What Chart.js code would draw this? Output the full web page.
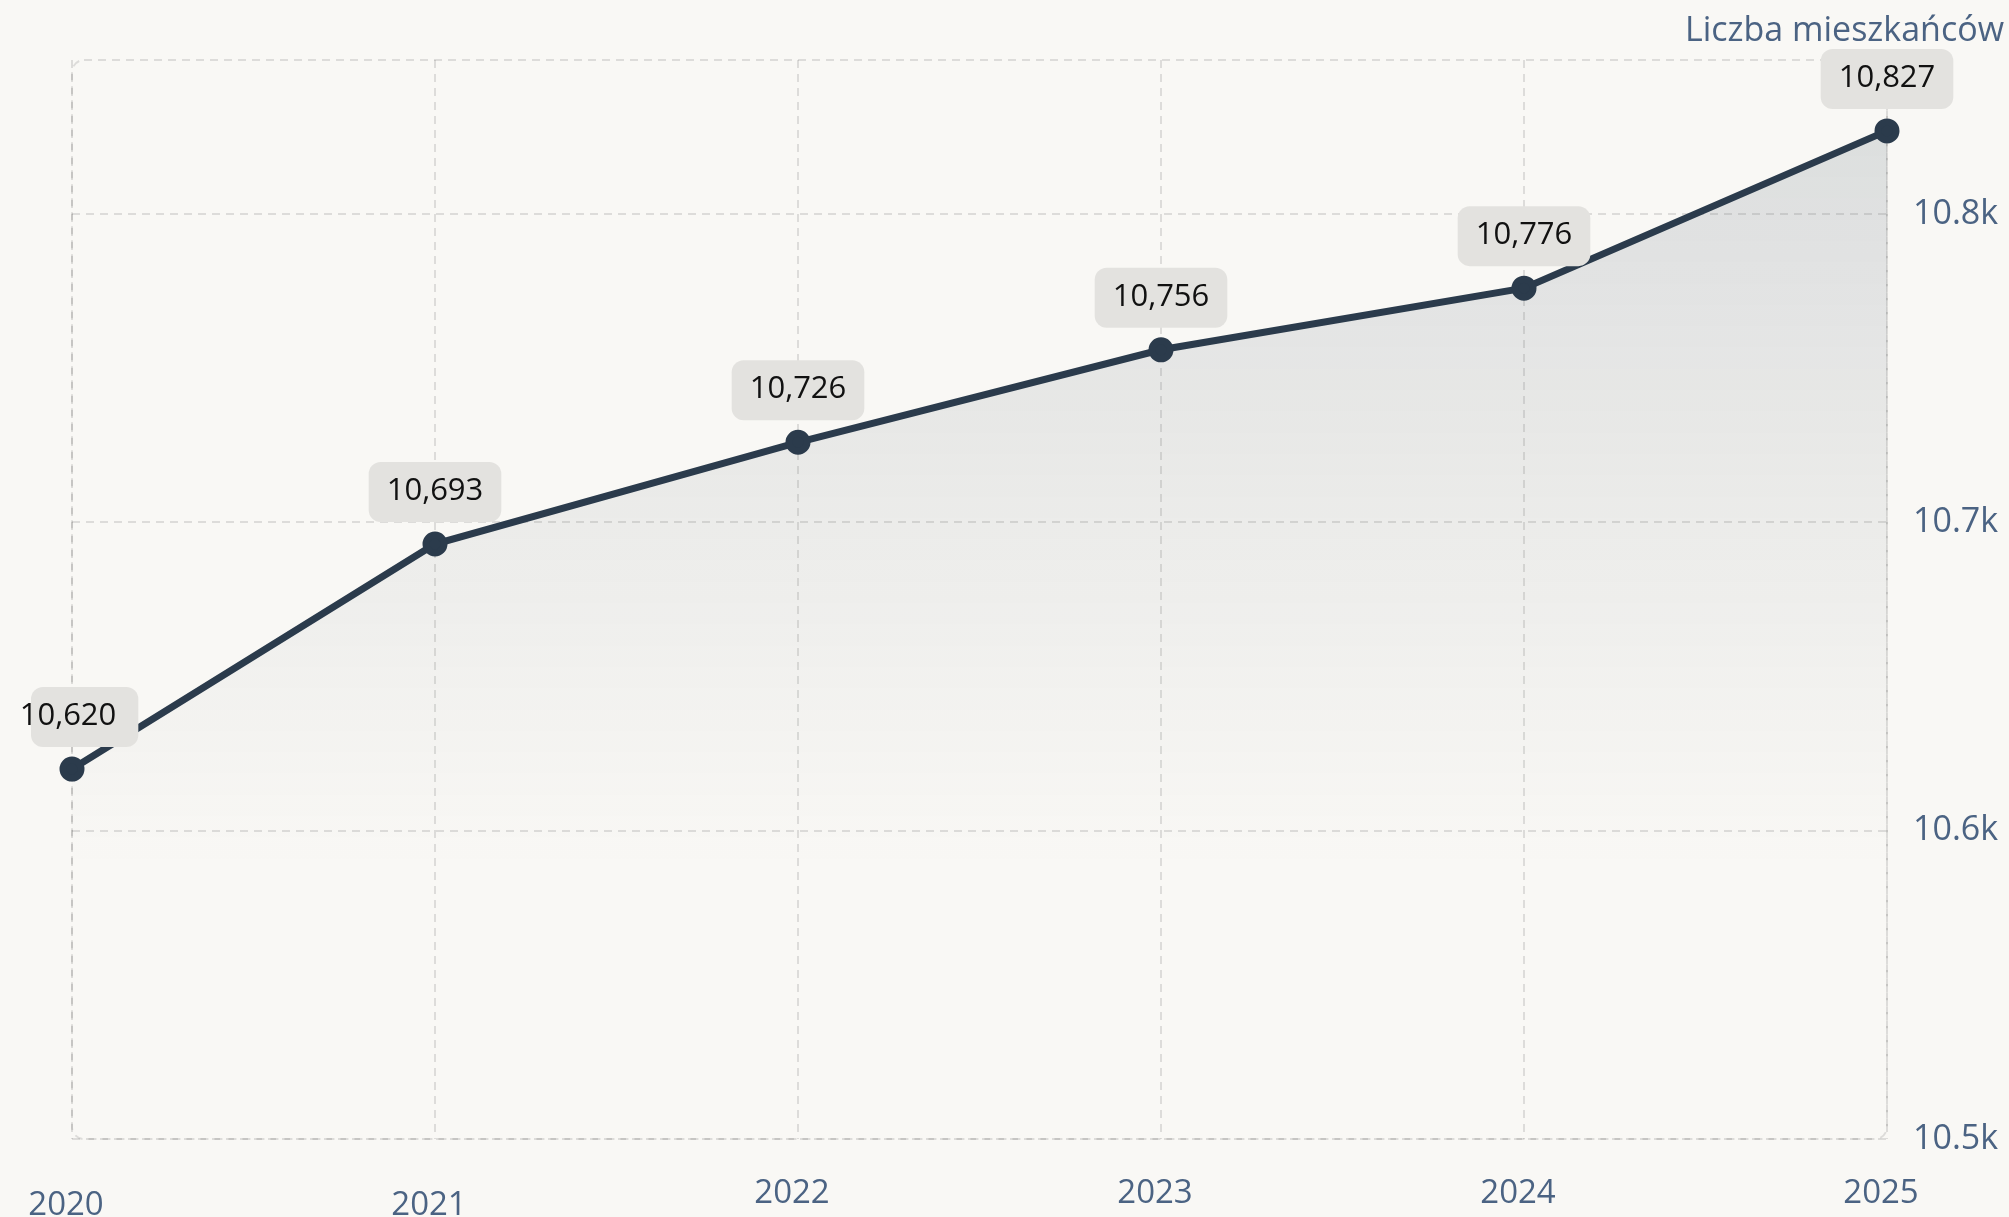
<!DOCTYPE html>
<html>
<head>
<meta charset="utf-8">
<script src="https://cdn.jsdelivr.net/npm/chart.js@4/dist/chart.umd.min.js"></script>
<style>
  html, body { margin: 0; padding: 0; background: #f9f8f5; }
  #wrap { width: 2009px; height: 1217px; position: relative; }
  canvas { display: block; }
</style>
</head>
<body>
<div id="wrap"><canvas id="c" width="2009" height="1217"></canvas></div>
<script>
const years = ['2020', '2021', '2022', '2023', '2024', '2025'];
const residents = [10620, 10693, 10726, 10756, 10776, 10827];
const yTicks = [10500, 10600, 10700, 10800];
const yTickLabels = ['10.5k', '10.6k', '10.7k', '10.8k'];
const axisTitle = 'Liczba mieszkańców';

const FONT = '"Open Sans", "Noto Sans", sans-serif';
const LINE = '#2b3b4c';
const AXIS_TEXT = '#4b6383';

const frame = {
  id: 'frame',
  beforeDatasetsDraw(chart) {
    const a = chart.chartArea, c = chart.ctx;
    c.save();
    c.strokeStyle = 'rgba(0,0,0,0.11)';
    c.lineWidth = 2;
    c.setLineDash([8, 6]);
    c.beginPath();
    c.roundRect(a.left, a.top, a.right - a.left, a.bottom - a.top, 12);
    c.stroke();
    c.restore();
  },
  afterDraw(chart) {
    const c = chart.ctx;
    c.save();
    c.font = '34px ' + FONT;
    c.fillStyle = AXIS_TEXT;
    c.textAlign = 'right';
    c.textBaseline = 'middle';
    c.fillText(axisTitle, 2004, 31);
    c.restore();
  }
};

const valueLabels = {
  id: 'valueLabels',
  afterDatasetsDraw(chart) {
    const c = chart.ctx;
    const meta = chart.getDatasetMeta(0);
    c.save();
    c.font = '31px ' + FONT;
    c.textAlign = 'center';
    c.textBaseline = 'middle';
    meta.data.forEach((pt, i) => {
      const txt = residents[i].toLocaleString('en-US');
      const tw = c.measureText(txt).width;
      const w = tw + 36, h = 60;
      let left = pt.x - w / 2;
      const right = pt.x + w / 2;
      if (left < 31) left = 31;
      const top = pt.y - 82;
      c.fillStyle = '#e3e2df';
      c.beginPath();
      c.roundRect(left, top, right - left, h, 12);
      c.fill();
      c.fillStyle = '#111111';
      c.fillText(txt, pt.x - (i === 0 ? 4 : 0), pt.y - 53);
    });
    c.restore();
  }
};

new Chart(document.getElementById('c'), {
  type: 'line',
  data: {
    labels: years,
    datasets: [{
      data: residents,
      borderColor: LINE,
      borderWidth: 7,
      pointRadius: 9,
      pointBackgroundColor: LINE,
      pointBorderColor: LINE,
      tension: 0,
      fill: 'origin',
      backgroundColor(ctx) {
        const a = ctx.chart.chartArea;
        if (!a) return 'rgba(44,62,80,0.1)';
        const g = ctx.chart.ctx.createLinearGradient(0, a.top, 0, a.bottom);
        g.addColorStop(0, 'rgba(44,62,80,0.15)');
        g.addColorStop(0.75, 'rgba(44,62,80,0.0)');
        g.addColorStop(1, 'rgba(44,62,80,0.0)');
        return g;
      }
    }]
  },
  options: {
    responsive: false,
    animation: false,
    devicePixelRatio: 1,
    layout: { padding: { left: 72, right: 0, top: 60, bottom: 0 } },
    plugins: { legend: { display: false }, tooltip: { enabled: false }, title: { display: false } },
    scales: {
      x: {
        offset: false,
        afterFit(scale) { scale.height = 78; scale.paddingLeft = 0; scale.paddingRight = 0; },
        grid: { color: 'rgba(0,0,0,0.11)', lineWidth: 2, drawTicks: false },
        border: { display: false, dash: [8, 6] },
        ticks: {
          color: AXIS_TEXT,
          font(ctx) { return { family: FONT, size: 33, lineHeight: ctx.index < 2 ? '64px' : 1.2 }; },
          padding: 35,
          labelOffset: -6,
          maxRotation: 0
        }
      },
      y: {
        position: 'right',
        min: 10500,
        max: 10850,
        afterBuildTicks(scale) { scale.ticks = yTicks.map(v => ({ value: v })); },
        afterFit(scale) { scale.width = 122; scale.paddingTop = 0; scale.paddingBottom = 0; },
        grid: { color: 'rgba(0,0,0,0.11)', lineWidth: 2, drawTicks: false },
        border: { display: false, dash: [8, 6] },
        ticks: {
          color: AXIS_TEXT,
          font: { family: FONT, size: 34 },
          padding: 26,
          callback(v) { const i = yTicks.indexOf(v); return i >= 0 ? yTickLabels[i] : ''; }
        }
      }
    }
  },
  plugins: [frame, valueLabels]
});
</script>
</body>
</html>
